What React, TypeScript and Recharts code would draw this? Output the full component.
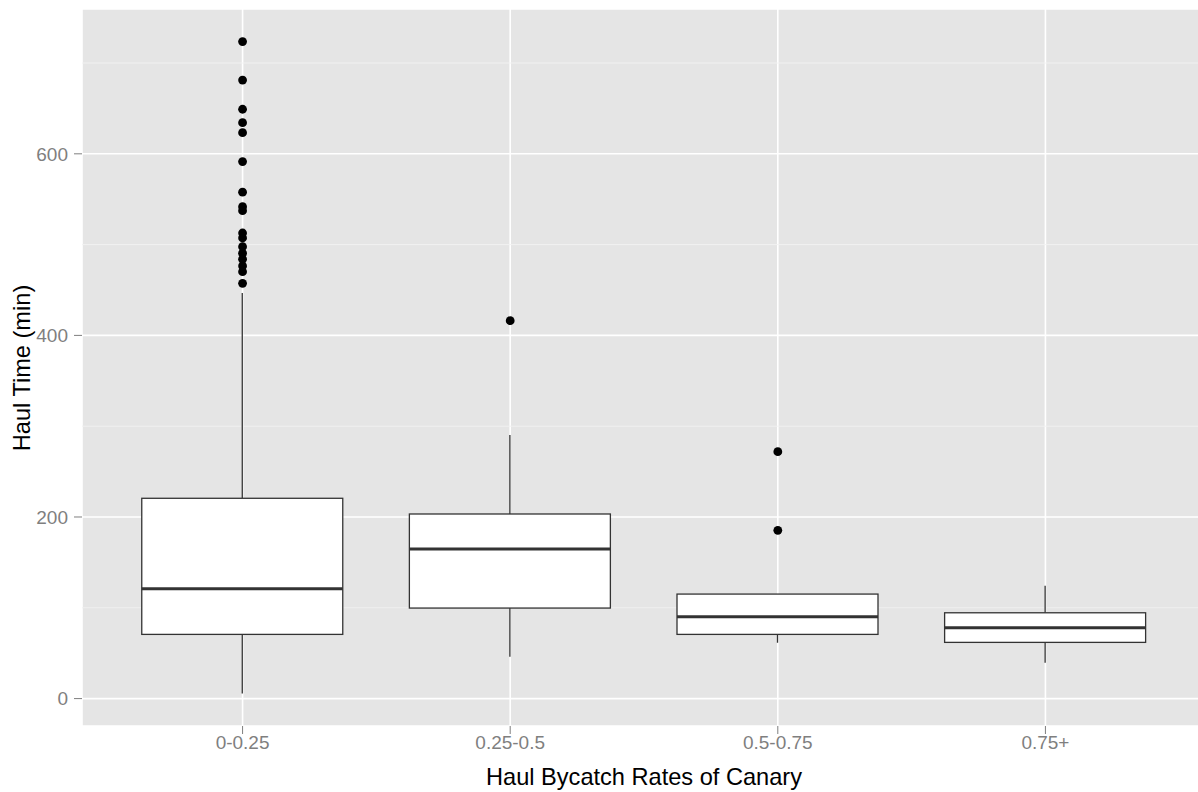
import { ComposedChart, Bar, Scatter, XAxis, YAxis, CartesianGrid, Label } from "recharts"

const categories = ["0-0.25", "0.25-0.5", "0.5-0.75", "0.75+"]
const positions = [1, 2, 3, 4]
const lowerWhisker = [5.7, 46, 61.5, 39.4]
const q1 = [70.7, 99.7, 70.7, 61.9]
const median = [121, 164.7, 90.1, 78]
const q3 = [220.6, 203.3, 115.1, 94.5]
const upperWhisker = [446.6, 290.3, 115.1, 124.3]

const outliers1 = [723.6, 681.2, 649.1, 634.3, 623.3, 591.4, 557.7, 541.8, 537.4, 512.8, 507.3, 497.7, 490.5, 483.9, 476.5, 470.2, 457.4]
const outliers2 = [416.2]
const outliers3 = [271.9, 185.3]
const outliers4: number[] = []

const yTicks = [0, 200, 400, 600]
const yMinor = [100, 300, 500, 700]

const boxData = categories.map((name, i) => ({
  name,
  pos: positions[i],
  lo: lowerWhisker[i],
  q1: q1[i],
  med: median[i],
  q3: q3[i],
  hi: upperWhisker[i],
}))

const outlierData = [outliers1, outliers2, outliers3, outliers4].flatMap((vals, i) =>
  vals.map((v) => ({ pos: positions[i], value: v }))
)

const font = "'Liberation Sans', Arial, sans-serif"
const boxStroke = "#333333"

function BoxShape(props: any) {
  const { x, y, width, height, payload } = props
  const top = Math.min(y, y + height)
  const bottom = Math.max(y, y + height)
  const toY = (v: number) => bottom - ((v - payload.lo) / (payload.hi - payload.lo)) * (bottom - top)
  const cx = x + width / 2
  return (
    <g>
      <line x1={cx} x2={cx} y1={toY(payload.hi)} y2={toY(payload.q3)} stroke={boxStroke} strokeWidth={1.3} />
      <line x1={cx} x2={cx} y1={toY(payload.q1)} y2={toY(payload.lo)} stroke={boxStroke} strokeWidth={1.3} />
      <rect
        x={x}
        y={toY(payload.q3)}
        width={width}
        height={toY(payload.q1) - toY(payload.q3)}
        fill="#ffffff"
        stroke={boxStroke}
        strokeWidth={1.3}
      />
      <line x1={x} x2={x + width} y1={toY(payload.med)} y2={toY(payload.med)} stroke={boxStroke} strokeWidth={3} />
    </g>
  )
}

export default function App() {
  return (
    <div style={{ width: 1198, height: 792, overflow: "hidden", background: "#ffffff" }}>
      <style>{"body{margin:0}"}</style>
      <ComposedChart width={1206} height={792} data={boxData} margin={{ top: 9, right: 0, bottom: 0, left: 0 }}>
        <CartesianGrid fill="#E5E5E5" stroke="#ffffff" strokeWidth={1.6} />
        <CartesianGrid horizontalValues={yMinor} vertical={false} stroke="#F2F2F2" strokeWidth={0.9} fill="none" />
        <XAxis
          type="number"
          dataKey="pos"
          domain={[0.4, 4.6]}
          ticks={positions}
          tickFormatter={(v) => categories[v - 1]}
          height={66}
          axisLine={false}
          tickSize={8}
          tickLine={{ stroke: "#7F7F7F" }}
          tick={{ fill: "#7F7F7F", fontSize: 19, fontFamily: font }}
          allowDataOverflow
        >
          <Label
            content={() => (
              <text x={644} y={777} textAnchor="middle" dominantBaseline="central" fontSize={23.6} fontFamily={font} fill="#000">
                Haul Bycatch Rates of Canary
              </text>
            )}
          />
        </XAxis>
        <YAxis
          type="number"
          domain={[-30.2, 759.5]}
          ticks={yTicks}
          width={82}
          axisLine={false}
          tickSize={8}
          tickMargin={6}
          tickLine={{ stroke: "#7F7F7F" }}
          tick={{ fill: "#7F7F7F", fontSize: 19, fontFamily: font }}
          allowDataOverflow
        >
          <Label
            content={() => (
              <text
                x={22}
                y={368}
                transform="rotate(-90 22 368)"
                textAnchor="middle"
                dominantBaseline="central"
                fontSize={23.6}
                fontFamily={font}
                fill="#000"
              >
                Haul Time (min)
              </text>
            )}
          />
        </YAxis>
        <Bar dataKey={(d: any) => [d.lo, d.hi]} barSize={201} shape={<BoxShape />} isAnimationActive={false} />
        <Scatter
          data={outlierData}
          dataKey="value"
          isAnimationActive={false}
          shape={(p: any) => <circle cx={p.cx} cy={p.cy} r={4.4} fill="#000000" />}
        />
      </ComposedChart>
    </div>
  )
}
